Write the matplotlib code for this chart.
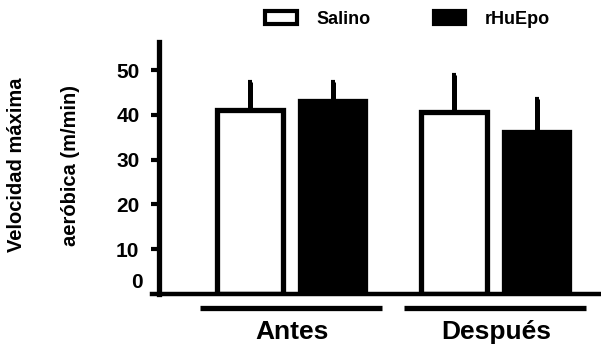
import matplotlib.pyplot as plt
import matplotlib.patches as mpatches
import numpy as np

plt.rcParams['font.family'] = ['Liberation Sans', 'DejaVu Sans']
plt.rcParams['font.weight'] = 'bold'

groups = ['Antes', 'Después']
series = ['Salino', 'rHuEpo']
means = {'Salino': [41.0, 40.6], 'rHuEpo': [43.2, 36.3]}
errs = {'Salino': [6.4, 8.4], 'rHuEpo': [4.2, 7.2]}
face = {'Salino': 'white', 'rHuEpo': 'black'}

W, H = 601, 351
fig = plt.figure(figsize=(W / 100, H / 100), dpi=100)
# axes box in pixels: left 152, right 601, bottom 294, top 42
ax = fig.add_axes([152 / W, (H - 294) / H, (W - 152) / W, (294 - 42) / H])

x = np.arange(len(groups))
width = 0.32
offs = {'Salino': -0.205, 'rHuEpo': 0.20}

for s in series:
    ax.bar(x + offs[s], means[s], width, color=face[s], edgecolor='black',
           linewidth=3.8, zorder=2)
    ax.errorbar(x + offs[s], means[s], yerr=[np.zeros(len(x)), errs[s]],
                fmt='none', ecolor='black', elinewidth=3.6, capsize=1.5,
                capthick=3, zorder=1)

ax.set_xlim(-0.686, 1.515)
ax.set_ylim(0, 56.3)

ax.spines['top'].set_visible(False)
ax.spines['right'].set_visible(False)
ax.spines['left'].set_position(('data', -0.652))
ax.spines['left'].set_linewidth(3.8)
ax.spines['bottom'].set_linewidth(3.2)

ax.set_yticks([10, 20, 30, 40, 50])
ax.tick_params(axis='y', length=6, width=3, labelsize=15, pad=8)
for lab in ax.get_yticklabels():
    lab.set_fontweight('bold')
ax.text(-0.02, 0.4, '0', ha='right', va='bottom', fontsize=15,
        fontweight='bold', transform=ax.get_yaxis_transform())

ax.set_xticks(x)
ax.set_xticklabels(groups, fontsize=19, fontweight='bold')
ax.tick_params(axis='x', length=0, pad=19)

# group underlines
trans = ax.get_xaxis_transform()
for xi in x:
    ax.plot([xi - 0.45, xi + 0.44], [-0.056, -0.056], color='black', lw=3.8,
            transform=trans, clip_on=False, solid_capstyle='butt')

fig.text(17 / W, 1 - 165 / H, 'Velocidad máxima', rotation=90, ha='center',
         va='center', fontsize=14.5, fontweight='bold')
fig.text(70 / W, 1 - 165 / H, 'aeróbica (m/min)', rotation=90, ha='center',
         va='center', fontsize=14.5, fontweight='bold')

handles = [mpatches.Patch(facecolor=face[s], edgecolor='black', linewidth=3)
           for s in series]
fig.legend(handles, series, loc='center left', bbox_to_anchor=(265 / W, 1 - 19 / H),
           ncol=2, frameon=False, handlelength=1.75, handleheight=0.72,
           columnspacing=3.5, handletextpad=1.1, borderpad=0, borderaxespad=0,
           prop={'weight': 'bold', 'size': 13})

fig.savefig('out.png', dpi=100)
